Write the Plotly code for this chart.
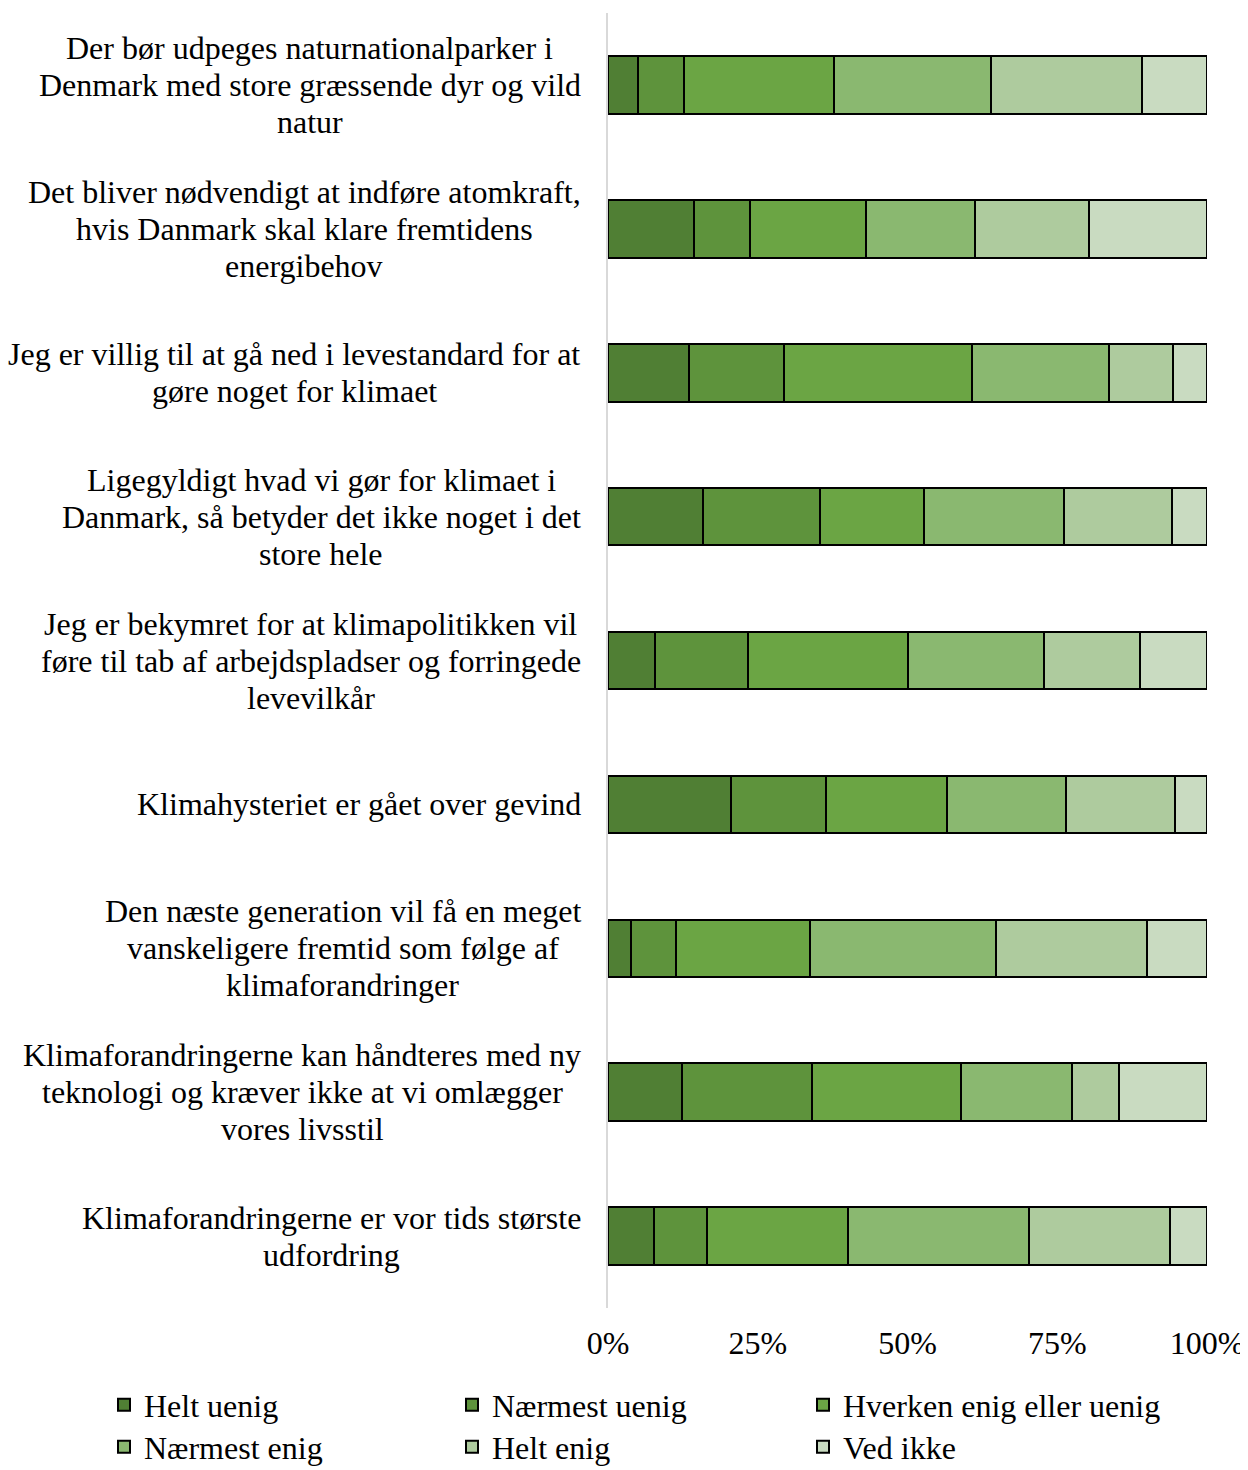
import plotly.graph_objects as go

categories = [
    "Der bør udpeges naturnationalparker i<br>Denmark med store græssende dyr og vild<br>natur",
    "Det bliver nødvendigt at indføre atomkraft,<br>hvis Danmark skal klare fremtidens<br>energibehov",
    "Jeg er villig til at gå ned i levestandard for at<br>gøre noget for klimaet",
    "Ligegyldigt hvad vi gør for klimaet i<br>Danmark, så betyder det ikke noget i det<br>store hele",
    "Jeg er bekymret for at klimapolitikken vil<br>føre til tab af arbejdspladser og forringede<br>levevilkår",
    "Klimahysteriet er gået over gevind",
    "Den næste generation vil få en meget<br>vanskeligere fremtid som følge af<br>klimaforandringer",
    "Klimaforandringerne kan håndteres med ny<br>teknologi og kræver ikke at vi omlægger<br>vores livsstil",
    "Klimaforandringerne er vor tids største<br>udfordring",
]

series_names = ["Helt uenig", "Nærmest uenig", "Hverken enig eller uenig",
                "Nærmest enig", "Helt enig", "Ved ikke"]

helt_uenig     = [5.0, 14.3, 13.5, 15.8, 7.8, 20.6, 3.9, 12.4, 7.6]
naermest_uenig = [7.7, 9.4, 15.9, 19.6, 15.6, 15.8, 7.4, 21.7, 9.0]
hverken        = [25.0, 19.4, 31.4, 17.4, 26.7, 20.2, 22.4, 24.8, 23.5]
naermest_enig  = [26.2, 18.2, 22.9, 23.3, 22.7, 19.9, 31.1, 18.5, 30.2]
helt_enig      = [25.2, 19.0, 10.7, 18.1, 16.0, 18.2, 25.2, 7.9, 23.5]
ved_ikke       = [10.9, 19.7, 5.6, 5.8, 11.2, 5.3, 10.0, 14.7, 6.2]

x_tickvals = [0, 25, 50, 75, 100]
x_ticktext = ["0%", "25%", "50%", "75%", "100%"]

# ---- styling / layout constants ----
colors = ["#507F34", "#5E933C", "#6BA544", "#8AB870", "#AECB9E", "#C9DBC1"]
series_values = [helt_uenig, naermest_uenig, hverken, naermest_enig, helt_enig, ved_ikke]

FONT = "Liberation Serif, Times New Roman, serif"
FS = 32
LINE_H = 37  # px between label lines

# page has an 8px body margin; figure coords = screen coords - 8
OFF = 8
W, H = 1248 - OFF, 1470 - OFF
PL, PR, PT, PB = 608 - OFF, 1207 - OFF, 13 - OFF, 1308 - OFF

# horizontal centre (screen px) of each wrapped label block
label_center_px = [309.7, 304, 294, 321, 310.5, 358.5, 342.5, 302, 331]

# legend grid (screen px): 3 columns x 2 rows
legend_cols_px = [104, 452, 803]
legend_rows_px = [1405, 1447]


def px_to_paper_x(px):
    return (px - PL) / (PR - PL)


def px_to_paper_y(py):
    return (PB - py) / (PB - PT)


legend_ids = ["legend", "legend2", "legend3", "legend4", "legend5", "legend6"]

fig = go.Figure()
for i, (name, vals, col) in enumerate(zip(series_names, series_values, colors)):
    fig.add_trace(go.Bar(
        y=list(range(len(categories))), x=vals, name=name, orientation="h",
        marker=dict(color=col, line=dict(color="black", width=2)),
        width=0.4,
        legend=legend_ids[i],
    ))

for idx, cat in enumerate(categories):
    lines = cat.split("<br>")
    n = len(lines)
    for k, line in enumerate(lines):
        offset = (k - (n - 1) / 2) * LINE_H
        fig.add_annotation(
            x=0, xref="paper", y=idx, yref="y", text=line, showarrow=False,
            xanchor="center", yanchor="middle", align="center",
            xshift=label_center_px[idx] - (PL + OFF), yshift=-offset,
            font=dict(family=FONT, size=FS, color="black"),
        )

legend_common = dict(
    orientation="h", xref="paper", yref="paper",
    xanchor="left", yanchor="middle",
    font=dict(family=FONT, size=FS, color="black"),
    bgcolor="rgba(0,0,0,0)", itemclick=False, itemdoubleclick=False,
)

legend_layout = {}
for i, lid in enumerate(legend_ids):
    col_px = legend_cols_px[i % 3]
    row_px = legend_rows_px[i // 3]
    legend_layout[lid] = dict(legend_common,
                              x=px_to_paper_x(col_px - OFF),
                              y=px_to_paper_y(row_px - OFF))

fig.update_layout(
    width=W, height=H,
    margin=dict(l=PL, r=W - PR, t=PT, b=H - PB, autoexpand=False),
    paper_bgcolor="white", plot_bgcolor="white",
    barmode="stack", barnorm="percent",
    font=dict(family=FONT, size=FS, color="black"),
    showlegend=True,
    xaxis=dict(range=[0, 100], tickvals=x_tickvals, ticktext=x_ticktext,
               showgrid=False, zeroline=False, showline=False,
               ticks="", ticklabelstandoff=13,
               tickfont=dict(family=FONT, size=FS, color="black")),
    yaxis=dict(range=[8.5, -0.5], showticklabels=False, showgrid=False,
               zeroline=False, showline=True, linecolor="#D9D9D9", linewidth=2,
               ticks=""),
    **legend_layout,
)

fig.write_html("out.html")
